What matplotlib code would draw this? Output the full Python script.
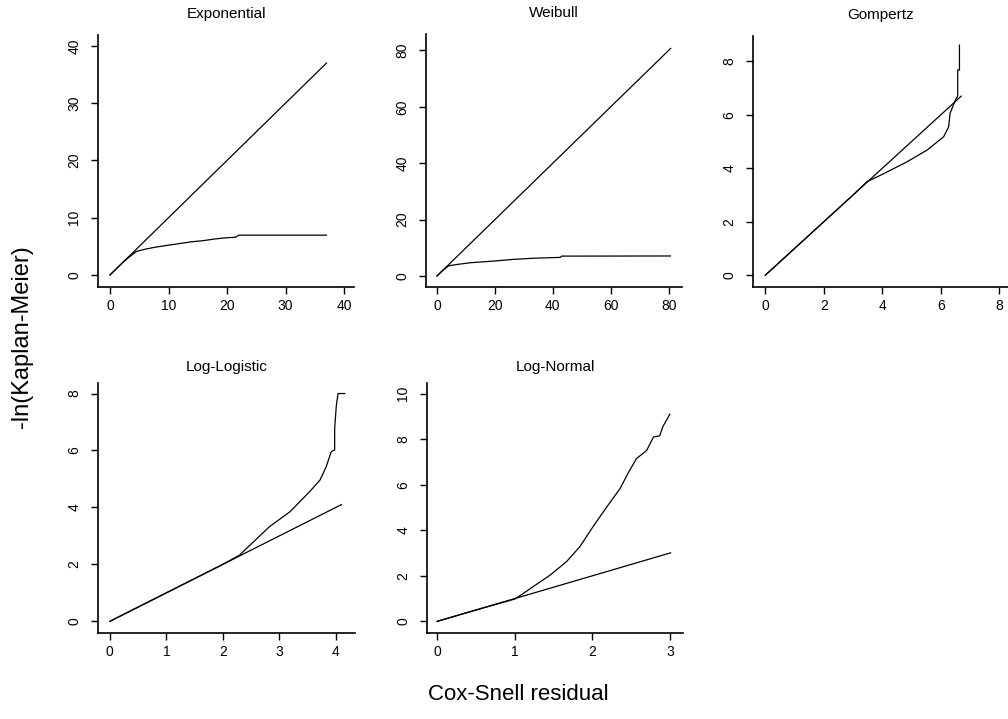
import numpy as np
import matplotlib
matplotlib.use("Agg")
import matplotlib.pyplot as plt

plt.rcParams['font.family'] = ['Liberation Sans', 'DejaVu Sans']

W, H = 1008, 719

# ---------- data ----------
titles = ["Exponential", "Weibull", "Gompertz", "Log-Logistic", "Log-Normal"]

# reference lines (y = x) end points
exp_ref = [0, 37.0]
wei_ref = [0, 80.7]
gom_ref = [0, 6.7]
llog_ref = [0, 4.1]
lnorm_ref = [0, 3.01]

# -ln(KM) curves
exp_x = [0, 1, 2, 3, 4, 4.5, 5, 6, 8, 10, 12, 14, 16, 18, 20, 21.5, 22, 37]
exp_y = [0, 1, 2, 2.9, 3.7, 4.1, 4.25, 4.5, 4.9, 5.2, 5.5, 5.8, 6.0, 6.3, 6.5, 6.6, 6.95, 6.95]

wei_x = [0, 2, 4, 7, 11.5, 19.6, 26.5, 33.4, 42.6, 43, 80.6]
wei_y = [0, 2, 3.6, 4.1, 4.7, 5.3, 5.9, 6.3, 6.6, 7.05, 7.1]

gom_x = [0, 1, 2, 3, 3.48, 4.05, 4.84, 5.53, 6.10, 6.27, 6.32, 6.5, 6.58, 6.58, 6.64, 6.64]
gom_y = [0, 1, 2, 3, 3.5, 3.8, 4.24, 4.68, 5.18, 5.55, 6.06, 6.55, 6.7, 7.68, 7.68, 8.61]

llog_x = [0, 0.5, 1, 1.5, 2, 2.3, 2.36, 2.83, 3.19, 3.54, 3.72, 3.83, 3.92, 3.98, 3.98, 4.01, 4.04, 4.16]
llog_y = [0, 0.5, 1, 1.5, 2, 2.33, 2.45, 3.33, 3.85, 4.56, 4.96, 5.43, 5.96, 6.02, 6.78, 7.59, 8.0, 8.0]

lnorm_x = [0, 0.5, 1.0, 1.1, 1.24, 1.46, 1.67, 1.84, 2.01, 2.19, 2.36, 2.46, 2.57, 2.7, 2.79, 2.87, 2.91, 3.0]
lnorm_y = [0, 0.5, 0.98, 1.2, 1.53, 2.04, 2.63, 3.28, 4.16, 5.04, 5.84, 6.5, 7.15, 7.5, 8.1, 8.15, 8.55, 9.1]

xticks = [[0, 10, 20, 30, 40], [0, 20, 40, 60, 80], [0, 2, 4, 6, 8], [0, 1, 2, 3, 4], [0, 1, 2, 3]]
yticks = [[0, 10, 20, 30, 40], [0, 20, 40, 60, 80], [0, 2, 4, 6, 8], [0, 2, 4, 6, 8], [0, 2, 4, 6, 8, 10]]
xlims = [(-2.05, 41.7), (-3.8, 84.6), (-0.42, 8.3), (-0.21, 4.34), (-0.13, 3.17)]
ylims = [(-2.1, 41.9), (-3.9, 85.8), (-0.44, 8.95), (-0.41, 8.37), (-0.51, 10.47)]

refs = [exp_ref, wei_ref, gom_ref, llog_ref, lnorm_ref]
curves = [(exp_x, exp_y), (wei_x, wei_y), (gom_x, gom_y), (llog_x, llog_y), (lnorm_x, lnorm_y)]

# panel boxes in pixels: left, top, right, bottom
boxes = [(98, 35, 354, 287), (426, 34, 682, 287), (753, 36, 1008, 287),
         (98, 383, 355, 633), (427, 383, 683, 633)]
title_pads = [12, 12, 12, 9, 9]

fig = plt.figure(figsize=(W / 100, H / 100), dpi=100)

for i in range(5):
    l, t, r, b = boxes[i]
    ax = fig.add_axes([l / W, (H - b) / H, (r - l) / W, (b - t) / H])
    ax.plot(refs[i], refs[i], color='black', lw=0.9)
    ax.plot(curves[i][0], curves[i][1], color='black', lw=0.9)
    ax.set_xlim(*xlims[i])
    ax.set_ylim(*ylims[i])
    ax.set_xticks(xticks[i])
    ax.set_yticks(yticks[i])
    ax.set_yticklabels([str(v) for v in yticks[i]], rotation=90, va='center')
    ax.spines['top'].set_visible(False)
    ax.spines['right'].set_visible(False)
    for s in ['left', 'bottom']:
        ax.spines[s].set_linewidth(1.2)
    ax.tick_params(axis='x', length=5, width=1.0, labelsize=10, pad=4)
    ax.tick_params(axis='y', length=5, width=1.0, labelsize=10, pad=7)
    ax.set_title(titles[i], fontsize=11, pad=title_pads[i])

fig.text(518 / W, 1 - 695 / H, "Cox-Snell residual", fontsize=16, ha='center', va='center')
fig.text(22 / W, 1 - 337 / H, "-ln(Kaplan-Meier)", fontsize=17, ha='center', va='center', rotation=90)

fig.savefig("out.png", dpi=100)
